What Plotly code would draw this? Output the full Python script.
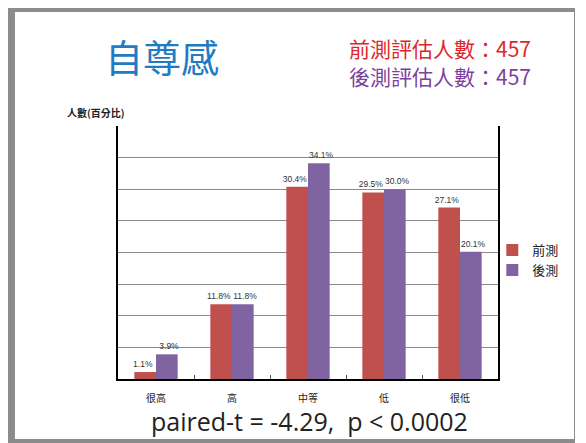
import plotly.graph_objects as go

categories = ["很高", "高", "中等", "低", "很低"]
pre_values = [1.1, 11.8, 30.4, 29.5, 27.1]
post_values = [3.9, 11.8, 34.1, 30.0, 20.1]
pre_labels = ["1.1%", "11.8%", "30.4%", "29.5%", "27.1%"]
post_labels = ["3.9%", "11.8%", "34.1%", "30.0%", "20.1%"]

CJK = "Noto Sans CJK TC"
LABEL_FONT = dict(size=8.5, color="#333333", family="Liberation Sans")
PAD = "\u00a0\u00a0"  # 讓相鄰標籤稍微分開

fig = go.Figure()

fig.add_trace(
    go.Bar(
        x=categories,
        y=pre_values,
        name="前測",
        marker=dict(color="#C0504D", line=dict(width=0)),
        text=[t + PAD for t in pre_labels],
        textposition="outside",
        constraintext="none",
        textfont=LABEL_FONT,
        cliponaxis=False,
    )
)

fig.add_trace(
    go.Bar(
        x=categories,
        y=post_values,
        name="後測",
        marker=dict(color="#8064A2", line=dict(width=0)),
        text=[PAD + t for t in post_labels],
        textposition="outside",
        constraintext="none",
        textfont=LABEL_FONT,
        cliponaxis=False,
    )
)

# 外框 (灰色邊)
frame = [
    dict(x0=-0.2895, x1=-0.2711, y0=-0.253, y1=1.4664),
    dict(x0=-0.2895, x1=1.2, y0=1.4506, y1=1.4664),
    dict(x0=-0.2895, x1=1.2, y0=-0.253, y1=-0.2372),
    dict(x0=1.2, x1=1.2026, y0=-0.253, y1=1.4664),
]
shapes = [
    dict(type="rect", xref="paper", yref="paper", line=dict(width=0),
         fillcolor="#8c8c8c", layer="above", **f)
    for f in frame
]

fig.update_layout(
    width=578,
    height=435,
    margin=dict(l=110, r=88, t=118, b=64),
    paper_bgcolor="white",
    plot_bgcolor="white",
    barmode="group",
    bargap=0.43,
    bargroupgap=0,
    font=dict(family=CJK, color="#222222"),
    showlegend=True,
    legend=dict(
        x=0.985, y=0.47, xanchor="left", yanchor="middle",
        font=dict(size=13, family=CJK, color="#222222"),
        itemwidth=30, tracegroupgap=0,
        bgcolor="rgba(0,0,0,0)",
    ),
    xaxis=dict(
        showline=True, linecolor="black", linewidth=1.5,
        ticks="inside", ticklen=4, tickcolor="#555555", tickson="boundaries",
        tickfont=dict(size=10, family=CJK, color="#222222"),
        ticklabelstandoff=9,
        showgrid=False,
    ),
    yaxis=dict(
        range=[0, 40], dtick=5, showticklabels=False, ticks="",
        showgrid=True, gridcolor="#8a8a8a", gridwidth=1,
        showline=True, linecolor="black", linewidth=1.5, mirror=True,
        zeroline=False,
    ),
    shapes=shapes,
    annotations=[
        dict(text="自尊感", x=-0.039, y=1.28, xref="paper", yref="paper",
             xanchor="left", yanchor="middle", showarrow=False,
             font=dict(size=38, color="#1F7BC2", family=CJK)),
        dict(text="前測評估人數：457", x=1.092, y=1.31, xref="paper", yref="paper",
             xanchor="right", yanchor="middle", showarrow=False,
             font=dict(size=21, color="#E0262A", family=CJK)),
        dict(text="後測評估人數：457", x=1.092, y=1.198, xref="paper", yref="paper",
             xanchor="right", yanchor="middle", showarrow=False,
             font=dict(size=21, color="#7E3FA0", family=CJK)),
        dict(text="<b>人數(百分比)</b>", x=-0.14, y=1.055, xref="paper", yref="paper",
             xanchor="left", yanchor="middle", showarrow=False,
             font=dict(size=10, color="#222222", family=CJK)),
        dict(text="paired-t = -4.29,  p < 0.0002", x=0.505, y=-0.165,
             xref="paper", yref="paper", xanchor="center", yanchor="middle",
             showarrow=False,
             font=dict(size=25, color="#222222", family="Open Sans")),
    ],
)

fig.write_html("out.html")
